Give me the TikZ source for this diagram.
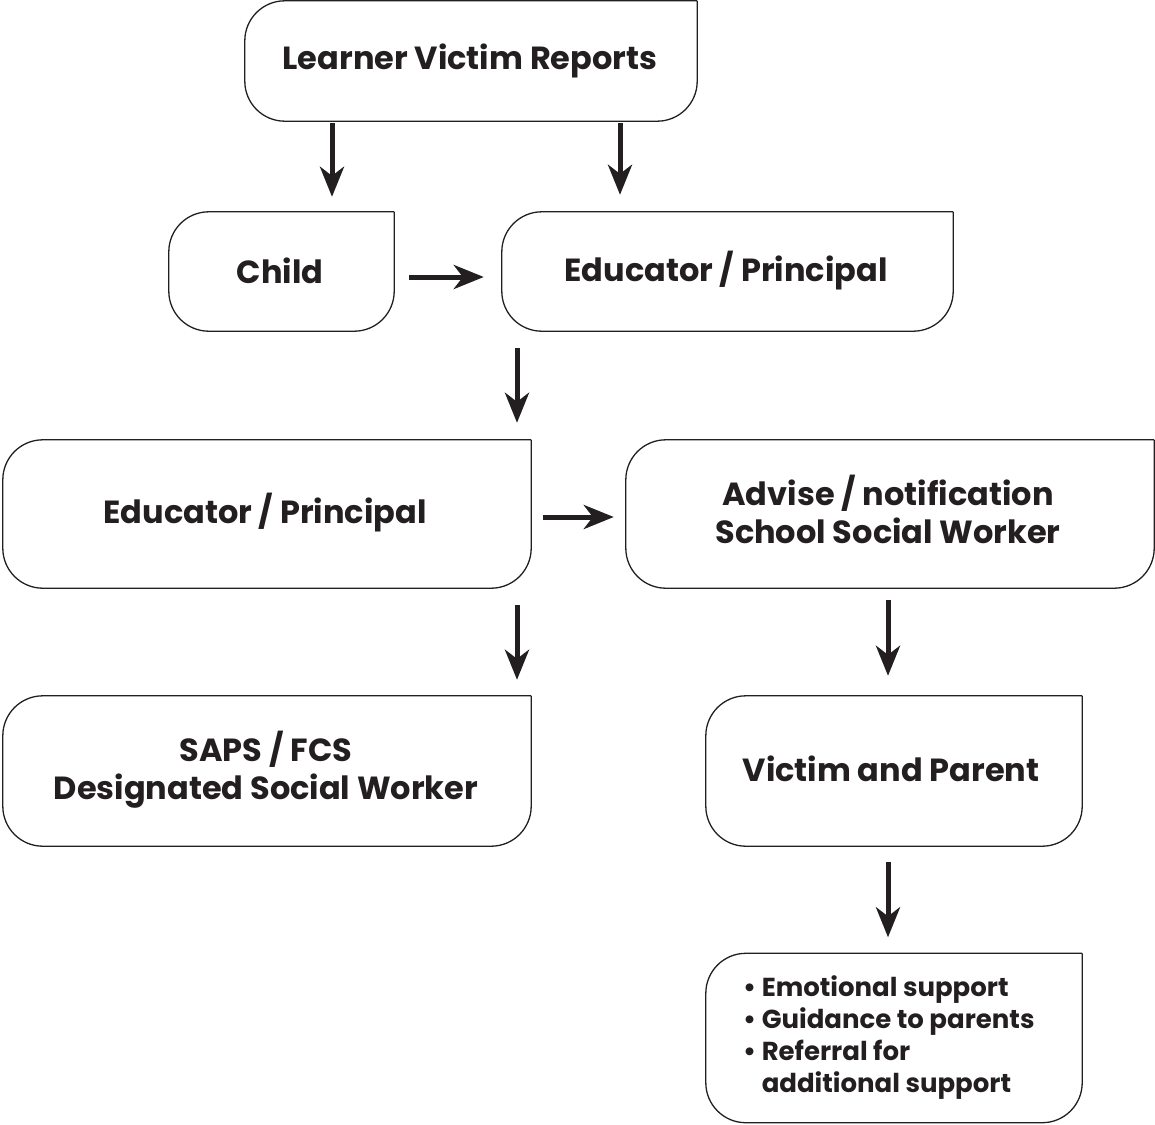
\documentclass[tikz,border=0pt]{standalone}
\usepackage{fontspec}
\setmainfont{Poppins}
\usetikzlibrary{arrows.meta}
\definecolor{ink}{HTML}{231F20}
\begin{document}
\begin{tikzpicture}[x=1pt,y=-1pt,
  lbl/.style={font=\fontsize{32}{38}\selectfont\bfseries, text=ink, align=center, inner sep=0pt},
  outline/.style={draw=ink, line width=1.3pt, rounded corners=40pt, line cap=square},
  arr/.style={draw=ink, line width=5pt, -{Stealth[length=30pt,width=24pt,inset=9pt]}}]
\useasboundingbox (0,0) rectangle (1155,1124);
% box areas (invisible nodes)
\node[minimum width=452pt, minimum height=120pt, inner sep=0pt] (learner) at (471,61) {};
\node[minimum width=225pt, minimum height=119pt, inner sep=0pt] (child) at (281.5,271.5) {};
\node[minimum width=451pt, minimum height=119pt, inner sep=0pt] (edu1) at (727.5,271.5) {};
\node[minimum width=528pt, minimum height=148pt, inner sep=0pt] (edu2) at (267,514) {};
\node[minimum width=528pt, minimum height=148pt, inner sep=0pt] (advise) at (890,514) {};
\node[minimum width=528pt, minimum height=150pt, inner sep=0pt] (saps) at (267,771) {};
\node[minimum width=376pt, minimum height=150pt, inner sep=0pt] (victim) at (894,771) {};
\node[minimum width=376pt, minimum height=169pt, inner sep=0pt] (support) at (894,1038) {};
\foreach \n in {learner,child,edu1,edu2,advise,saps,victim,support}
  \draw[outline] (\n.north east) -- (\n.south east) -- (\n.south west) -- (\n.north west) -- (\n.north east);
% labels
\node[lbl] (tlearner) at (470,61) {Learner Victim Reports};
\node[lbl] (tchild) at (280,271) {Child};
\node[lbl] (tedu1) at (726,271) {Educator / Principal};
\node[lbl] (tedu2) at (265,513) {Educator / Principal};
\node[lbl] (tadvise) at (888,509) {Advise / notification\\School Social Worker};
\node[lbl] (tsaps) at (266,770) {SAPS / FCS\\Designated Social Worker};
\node[lbl] (tvictim) at (891,769) {Victim and Parent};
\node[font=\fontsize{26}{32}\selectfont\bfseries, text=ink, align=left, inner sep=0pt, anchor=north west] (tsupport) at (743,975)
  {\textbullet\ Emotional support\\\textbullet\ Guidance to parents\\\textbullet\ Referral for\\\phantom{\textbullet\ }additional support};
% arrow columns
\coordinate (c1) at (332,0);
\coordinate (c2) at (620,0);
\coordinate (c3) at (517,0);
\coordinate (c4) at (888,0);
\coordinate (r1) at (0,277);
\coordinate (r2) at (0,517);
% arrows
\draw[arr, shorten <=2pt, shorten >=15pt] (learner.south -| c1) -- (child.north -| c1);
\draw[arr, shorten <=2pt, shorten >=17pt] (learner.south -| c2) -- (edu1.north -| c2);
\draw[arr, shorten <=15pt, shorten >=18pt] (child.east |- r1) -- (edu1.west |- r1);
\draw[arr, shorten <=17pt, shorten >=17pt] (edu1.south -| c3) -- (edu2.north -| c3);
\draw[arr, shorten <=12pt, shorten >=12pt] (edu2.east |- r2) -- (advise.west |- r2);
\draw[arr, shorten <=17pt, shorten >=16pt] (edu2.south -| c3) -- (saps.north -| c3);
\draw[arr, shorten <=12pt, shorten >=20pt] (advise.south -| c4) -- (victim.north -| c4);
\draw[arr, shorten <=16pt, shorten >=16pt] (victim.south -| c4) -- (support.north -| c4);
\end{tikzpicture}
\end{document}
